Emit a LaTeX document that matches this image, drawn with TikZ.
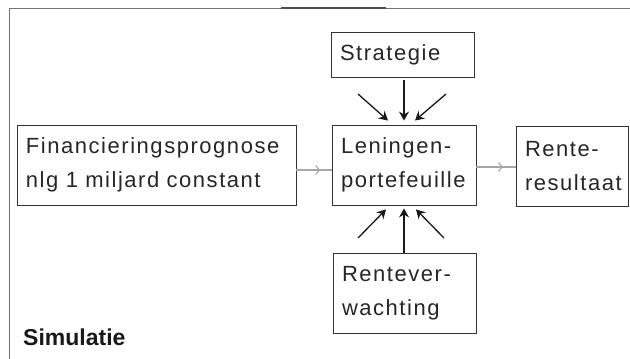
\documentclass[tikz,border=0pt]{standalone}
\usepackage{fontspec}
\setmainfont{Liberation Sans}
\newfontfamily\boxfont{Liberation Sans}[LetterSpace=7]
\usetikzlibrary{arrows.meta,calc,decorations.markings}
\tikzset{
  boxnode/.style={draw=black!80, line width=0.9pt, inner xsep=9pt, inner ysep=0pt,
    align=left, font=\boxfont\fontsize{22}{34}\selectfont, text=black!85},
  inarrow/.style={line width=1.3pt, black!90, -{Stealth[length=9pt,width=10pt,inset=3pt]}},
  flowarrow/.style={line width=1.1pt, black!35,
    postaction={decorate},
    decoration={markings, mark=at position 0.68 with {\arrow{Straight Barb[length=4pt,width=9pt,line width=1.1pt]}}}},
  framecol/.style={line width=0.9pt, black!55}
}
\begin{document}
\begin{tikzpicture}[x=1pt,y=-1pt]
\useasboundingbox (0,0) rectangle (630,359);
\draw[framecol] (9,359) -- (9,8) -- (630,8);
\draw[line width=1.4pt, black!70] (281,8) -- (386,8);

\node[boxnode, text width=261pt, minimum height=80pt] (fin) at (156.5,165)
  {Financieringsprognose\\nlg 1 miljard constant};
\node[boxnode, text width=126pt, minimum height=80pt] (len) at (404,165)
  {Leningen-\\portefeuille};
\node[boxnode, text width=94pt, minimum height=80pt] (ren) at (572,166)
  {Rente-\\resultaat};
\node[boxnode, text width=125pt, minimum height=45pt] (str) at (402.5,54.5)
  {Strategie};
\node[boxnode, text width=125pt, minimum height=80pt] (rv) at (404.5,293)
  {Rentever-\\wachting};

\node[anchor=base west, font=\bfseries\fontsize{23}{28}\selectfont, text=black!90, inner sep=0pt] (sim) at (23,345) {Simulatie};

% flow arrows
\draw[flowarrow] ([yshift=-5pt]fin.east) -- ([yshift=-5pt]len.west);
\draw[flowarrow] ([yshift=-2pt]len.east) -- ([yshift=-1pt]ren.west);

% strategy arrows
\coordinate (sl) at (358,94);
\coordinate (sr) at (446,94);
\draw[inarrow] ([yshift=-3pt]str.south -| len.north) -- ([yshift=4pt]len.north);
\draw[inarrow] (sl) -- ($(len.north)+(-16,-4)$);
\draw[inarrow] (sr) -- ($(len.north)+(11,-4)$);

% expectation arrows
\coordinate (rl) at (358,238);
\coordinate (rr) at (444,238);
\draw[inarrow] (rv.north -| len.south) -- ([yshift=-3pt]len.south);
\draw[inarrow] (rl) -- ($(len.south)+(-18,4)$);
\draw[inarrow] (rr) -- ($(len.south)+(12,4)$);
\end{tikzpicture}
\end{document}
